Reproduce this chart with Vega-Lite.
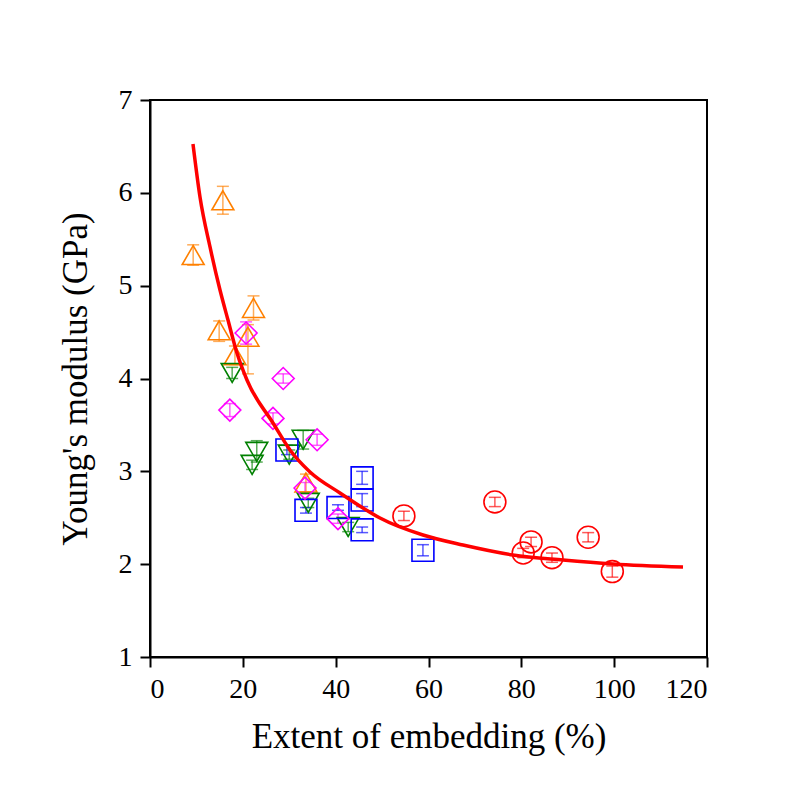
{
  "$schema": "https://vega.github.io/schema/vega-lite/v6.json",
  "autosize": {"type": "none"},
  "padding": {"left": 150, "top": 100, "right": 92, "bottom": 144},
  "width": 557,
  "height": 557,
  "background": "white",
  "datasets": {
    "pts": [
      {"series": "A", "x": 9.3, "y": 5.33, "lo": 5.22, "hi": 5.44},
      {"series": "A", "x": 15.7, "y": 5.92, "lo": 5.77, "hi": 6.07},
      {"series": "A", "x": 14.9, "y": 4.52, "lo": 4.40, "hi": 4.62},
      {"series": "A", "x": 22.3, "y": 4.76, "lo": 4.63, "hi": 4.89},
      {"series": "A", "x": 21.1, "y": 4.45, "lo": 4.05, "hi": 4.58},
      {"series": "A", "x": 18.3, "y": 4.25, "lo": 4.15, "hi": 4.35},
      {"series": "A", "x": 33.6, "y": 2.88, "lo": 2.78, "hi": 2.97},
      {"series": "B", "x": 17.7, "y": 4.06, "lo": 4.0, "hi": 4.12},
      {"series": "B", "x": 23.0, "y": 3.21, "lo": 3.10, "hi": 3.33},
      {"series": "B", "x": 22.0, "y": 3.07, "lo": 3.02, "hi": 3.12},
      {"series": "B", "x": 30.0, "y": 3.18, "lo": 3.13, "hi": 3.23},
      {"series": "B", "x": 33.0, "y": 3.34, "lo": 3.24, "hi": 3.44},
      {"series": "B", "x": 34.1, "y": 2.66, "lo": 2.61, "hi": 2.71},
      {"series": "B", "x": 42.7, "y": 2.40, "lo": 2.35, "hi": 2.45},
      {"series": "C", "x": 29.5, "y": 3.23, "lo": 3.18, "hi": 3.28},
      {"series": "C", "x": 33.6, "y": 2.58, "lo": 2.55, "hi": 2.61},
      {"series": "C", "x": 40.5, "y": 2.61, "lo": 2.58, "hi": 2.64},
      {"series": "C", "x": 45.7, "y": 2.93, "lo": 2.86, "hi": 3.0},
      {"series": "C", "x": 45.7, "y": 2.69, "lo": 2.62, "hi": 2.76},
      {"series": "C", "x": 45.7, "y": 2.37, "lo": 2.34, "hi": 2.40},
      {"series": "C", "x": 58.8, "y": 2.15, "lo": 2.09, "hi": 2.21},
      {"series": "D", "x": 17.2, "y": 3.66, "lo": 3.59, "hi": 3.73},
      {"series": "D", "x": 28.7, "y": 4.00, "lo": 3.95, "hi": 4.05},
      {"series": "D", "x": 26.5, "y": 3.57, "lo": 3.51, "hi": 3.63},
      {"series": "D", "x": 36.0, "y": 3.34, "lo": 3.28, "hi": 3.40},
      {"series": "D", "x": 33.4, "y": 2.82, "lo": 2.76, "hi": 2.88},
      {"series": "D", "x": 40.5, "y": 2.49, "lo": 2.44, "hi": 2.54},
      {"series": "D", "x": 20.7, "y": 4.49, "lo": 4.37, "hi": 4.61},
      {"series": "E", "x": 54.7, "y": 2.52, "lo": 2.47, "hi": 2.57},
      {"series": "E", "x": 74.3, "y": 2.67, "lo": 2.62, "hi": 2.72},
      {"series": "E", "x": 80.4, "y": 2.12, "lo": 2.07, "hi": 2.17},
      {"series": "E", "x": 82.1, "y": 2.24, "lo": 2.19, "hi": 2.29},
      {"series": "E", "x": 86.6, "y": 2.07, "lo": 2.02, "hi": 2.12},
      {"series": "E", "x": 94.4, "y": 2.29, "lo": 2.24, "hi": 2.34},
      {"series": "E", "x": 99.6, "y": 1.92, "lo": 1.86, "hi": 1.98}
    ],
    "curve": [
      {"x": 9.26, "y": 6.526},
      {"x": 10.77, "y": 5.955},
      {"x": 12.93, "y": 5.417},
      {"x": 15.08, "y": 4.953},
      {"x": 16.80, "y": 4.630},
      {"x": 18.74, "y": 4.275},
      {"x": 20.89, "y": 3.984},
      {"x": 26.50, "y": 3.521},
      {"x": 30.16, "y": 3.230},
      {"x": 34.47, "y": 2.993},
      {"x": 40.93, "y": 2.767},
      {"x": 45.89, "y": 2.605},
      {"x": 49.55, "y": 2.497},
      {"x": 58.81, "y": 2.314},
      {"x": 67.43, "y": 2.206},
      {"x": 78.20, "y": 2.099},
      {"x": 88.97, "y": 2.045},
      {"x": 99.74, "y": 2.002},
      {"x": 114.83, "y": 1.969}
    ]
  },
  "layer": [
    {
      "data": {"name": "pts"},
      "mark": {"type": "errorbar", "ticks": {"size": 12}, "opacity": 0.65, "thickness": 1.5},
      "encoding": {
        "x": {"field": "x", "type": "quantitative", "scale": {"domain": [0, 120], "nice": false},
          "axis": {"title": "Extent of embedding (%)", "values": [0, 20, 40, 60, 80, 100, 120], "format": "d"}},
        "y": {"field": "lo", "type": "quantitative", "scale": {"domain": [1, 7], "nice": false, "zero": false},
          "axis": {"title": "Young's modulus (GPa)", "values": [1, 2, 3, 4, 5, 6, 7], "format": "d"}},
        "y2": {"field": "hi"},
        "color": {"field": "series", "type": "nominal", "legend": null,
          "scale": {"domain": ["A", "B", "C", "D", "E"], "range": ["#FF8000", "#008000", "#0000FF", "#FF00FF", "#FF0000"]}}
      }
    },
    {
      "data": {"name": "pts"},
      "mark": {"type": "point", "filled": false, "strokeWidth": 1.6, "opacity": 1},
      "encoding": {
        "x": {"field": "x", "type": "quantitative"},
        "y": {"field": "y", "type": "quantitative"},
        "color": {"field": "series", "type": "nominal", "legend": null},
        "shape": {"field": "series", "type": "nominal", "legend": null,
          "scale": {"domain": ["A", "B", "C", "D", "E"], "range": ["triangle-up", "triangle-down", "square", "diamond", "circle"]}},
        "size": {"field": "series", "type": "nominal", "legend": null,
          "scale": {"domain": ["A", "B", "C", "D", "E"], "range": [480, 480, 290, 450, 300]}}
      }
    },
    {
      "data": {"name": "curve"},
      "mark": {"type": "line", "color": "#FF0000", "strokeWidth": 3.5, "interpolate": "monotone"},
      "encoding": {
        "x": {"field": "x", "type": "quantitative"},
        "y": {"field": "y", "type": "quantitative"}
      }
    }
  ],
  "config": {
    "font": "Liberation Serif",
    "view": {"stroke": "black", "strokeWidth": 2},
    "axis": {
      "grid": false,
      "domainColor": "black",
      "domainWidth": 2,
      "tickColor": "black",
      "tickWidth": 2,
      "tickSize": 10,
      "labelFontSize": 28,
      "labelColor": "black",
      "labelPadding": 8,
      "titleFontSize": 35,
      "titleFontWeight": "normal",
      "titleColor": "black"
    },
    "axisX": {"titlePadding": 16},
    "axisY": {"titlePadding": 25}
  }
}
